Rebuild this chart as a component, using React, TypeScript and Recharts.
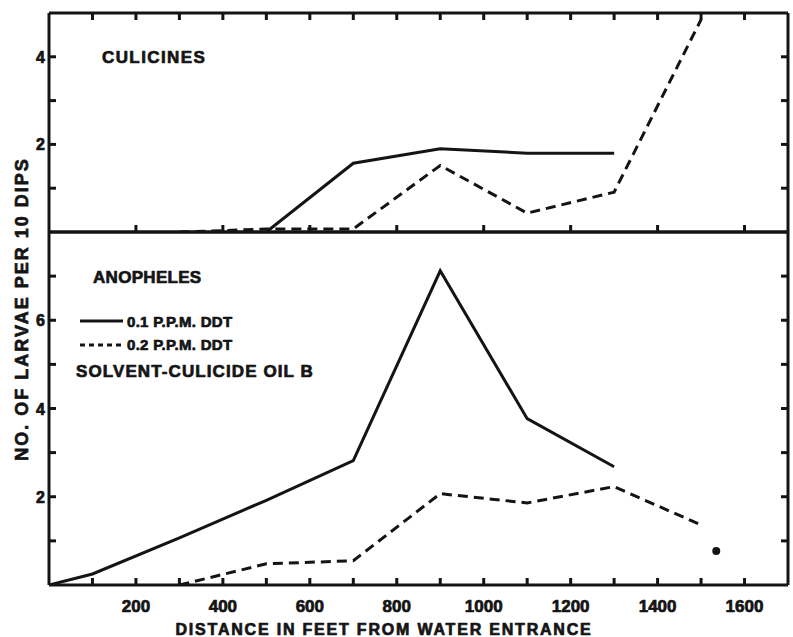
import React from 'react';
import { ComposedChart, Line, Scatter, XAxis, YAxis, Legend } from 'recharts';

// ---- data ----
const xDomain: [number, number] = [0, 1700];
const xTicksAll = [100, 200, 300, 400, 500, 600, 700, 800, 900, 1000, 1100, 1200, 1300, 1400, 1500, 1600];
const xTicksDivider = [200, 400, 600, 800, 1000, 1200, 1400, 1600];
const xTickLabels = [200, 400, 600, 800, 1000, 1200, 1400, 1600];

const topYDomain: [number, number] = [0, 5];
const topYTicks = [1, 2, 3, 4];
const topYLabels = [2, 4];
const bottomYDomain: [number, number] = [0, 8];
const bottomYTicks = [1, 2, 3, 4, 5, 6, 7];
const bottomYLabels = [2, 4, 6];

const seriesNames = ['0.1 P.P.M. DDT', '0.2 P.P.M. DDT'];

const culicines01 = [
  { x: 500, y: 0 }, { x: 700, y: 1.57 }, { x: 900, y: 1.9 }, { x: 1100, y: 1.8 }, { x: 1300, y: 1.8 },
];
const culicines02 = [
  { x: 300, y: 0 }, { x: 400, y: 0.03 }, { x: 500, y: 0.07 }, { x: 700, y: 0.07 },
  { x: 900, y: 1.52 }, { x: 1100, y: 0.43 }, { x: 1300, y: 0.91 }, { x: 1500, y: 4.85 },
];
const anopheles01 = [
  { x: 0, y: 0 }, { x: 100, y: 0.25 }, { x: 300, y: 1.07 }, { x: 500, y: 1.92 },
  { x: 700, y: 2.82 }, { x: 900, y: 7.12 }, { x: 1100, y: 3.77 }, { x: 1300, y: 2.68 },
];
const anopheles02 = [
  { x: 300, y: 0 }, { x: 500, y: 0.48 }, { x: 700, y: 0.55 }, { x: 900, y: 2.07 },
  { x: 1100, y: 1.86 }, { x: 1300, y: 2.23 }, { x: 1500, y: 1.36 },
];
const anophelesSingle = [{ x: 1535, y: 0.77 }];

// ---- styles ----
const K = '#141414';
const FONT = '"Liberation Sans", Arial, sans-serif';
const TICK_LEN = 7;
const TICK_W = 3;
const AXIS_W = 3;
const TEXT_STROKE = 0.7;

const textStyle = {
  fontFamily: FONT,
  fontWeight: 700,
  fill: K,
  stroke: K,
  strokeWidth: TEXT_STROKE,
  strokeLinejoin: 'round' as const,
};

const BottomTick = (labels: number[]) => (props: any) => {
  const { x, y, payload } = props;
  const v = payload.value;
  return (
    <g>
      <line x1={x} x2={x} y1={y} y2={y - TICK_LEN} stroke={K} strokeWidth={TICK_W} />
      {labels.includes(v) && (
        <text x={x} y={y + 27} textAnchor="middle" fontSize={17} {...textStyle}>
          {v}
        </text>
      )}
    </g>
  );
};
const TopTick = (props: any) => {
  const { x, y } = props;
  return (
    <g>
      <line x1={x} x2={x} y1={y} y2={y + TICK_LEN} stroke={K} strokeWidth={TICK_W} />
    </g>
  );
};
const LeftTick = (labels: number[]) => (props: any) => {
  const { x, y, payload } = props;
  const v = payload.value;
  return (
    <g>
      <line x1={x} x2={x + TICK_LEN} y1={y} y2={y} stroke={K} strokeWidth={TICK_W} />
      {labels.includes(v) && (
        <text x={x - 4} y={y + 6} textAnchor="end" fontSize={16} {...textStyle}>
          {v}
        </text>
      )}
    </g>
  );
};
const RightTick = (props: any) => {
  const { x, y } = props;
  return (
    <g>
      <line x1={x} x2={x - TICK_LEN} y1={y} y2={y} stroke={K} strokeWidth={TICK_W} />
    </g>
  );
};

const axisLine = { stroke: K, strokeWidth: AXIS_W };

const LegendContent = () => (
  <svg width={200} height={44} style={{ display: 'block', overflow: 'visible' }}>
    <line x1={4} x2={47} y1={7} y2={7} stroke={K} strokeWidth={3} />
    <text x={51} y={13} fontSize={15} letterSpacing={0.3} {...textStyle}>
      {seriesNames[0]}
    </text>
    <line x1={4} x2={47} y1={31} y2={31} stroke={K} strokeWidth={3} strokeDasharray="5 4" />
    <text x={51} y={36} fontSize={15} letterSpacing={0.3} {...textStyle}>
      {seriesNames[1]}
    </text>
  </svg>
);

export default function App() {
  return (
    <div style={{ position: 'absolute', left: 0, top: 0, width: 793, height: 637, background: '#fff' }}>
      {/* Top panel: Culicines */}
      <div style={{ position: 'absolute', left: 0, top: 0 }}>
        <ComposedChart width={793} height={240} margin={{ top: 0, right: 0, bottom: 0, left: 0 }}>
          <XAxis xAxisId="b" type="number" dataKey="x" domain={xDomain} allowDataOverflow ticks={xTicksDivider}
            interval={0} orientation="bottom" height={8} tickSize={0} tickMargin={0} tickLine={false}
            axisLine={axisLine} tick={BottomTick([])} />
          <XAxis xAxisId="t" type="number" dataKey="x" domain={xDomain} allowDataOverflow ticks={xTicksAll}
            interval={0} orientation="top" height={13} tickSize={0} tickMargin={0} tickLine={false}
            axisLine={axisLine} tick={TopTick} />
          <YAxis yAxisId="l" type="number" domain={topYDomain} allowDataOverflow ticks={topYTicks} interval={0}
            orientation="left" width={49} tickSize={0} tickMargin={0} tickLine={false} axisLine={axisLine}
            tick={LeftTick(topYLabels)} />
          <YAxis yAxisId="r" type="number" domain={topYDomain} allowDataOverflow ticks={topYTicks} interval={0}
            orientation="right" width={5} tickSize={0} tickMargin={0} tickLine={false} axisLine={axisLine}
            tick={RightTick} />
          <Line xAxisId="b" yAxisId="l" data={culicines01} dataKey="y" name={seriesNames[0]} stroke={K}
            strokeWidth={3} dot={false} isAnimationActive={false} />
          <Line xAxisId="b" yAxisId="l" data={culicines02} dataKey="y" name={seriesNames[1]} stroke={K}
            strokeWidth={3} strokeDasharray="10 6" dot={false} isAnimationActive={false} />
        </ComposedChart>
      </div>

      {/* Bottom panel: Anopheles */}
      <div style={{ position: 'absolute', left: 0, top: 220 }}>
        <ComposedChart width={793} height={417} margin={{ top: 0, right: 0, bottom: 0, left: 0 }}>
          <XAxis xAxisId="b" type="number" dataKey="x" domain={xDomain} allowDataOverflow ticks={xTicksAll}
            interval={0} orientation="bottom" height={52} tickSize={0} tickMargin={0} tickLine={false}
            axisLine={axisLine} tick={BottomTick(xTickLabels)} />
          <XAxis xAxisId="t" type="number" dataKey="x" domain={xDomain} allowDataOverflow ticks={[]}
            orientation="top" height={12} tickSize={0} tickLine={false} axisLine={axisLine} tick={false} />
          <YAxis yAxisId="l" type="number" domain={bottomYDomain} allowDataOverflow ticks={bottomYTicks} interval={0}
            orientation="left" width={49} tickSize={0} tickMargin={0} tickLine={false} axisLine={axisLine}
            tick={LeftTick(bottomYLabels)} />
          <YAxis yAxisId="r" type="number" domain={bottomYDomain} allowDataOverflow ticks={bottomYTicks} interval={0}
            orientation="right" width={5} tickSize={0} tickMargin={0} tickLine={false} axisLine={axisLine}
            tick={RightTick} />
          <Legend layout="vertical" align="center" verticalAlign="middle" content={LegendContent}
            wrapperStyle={{ position: 'absolute', left: 76, top: 94, width: 200, height: 44 }} />
          <Line xAxisId="b" yAxisId="l" data={anopheles01} dataKey="y" name={seriesNames[0]} stroke={K}
            strokeWidth={3} dot={false} isAnimationActive={false} />
          <Line xAxisId="b" yAxisId="l" data={anopheles02} dataKey="y" name={seriesNames[1]} stroke={K}
            strokeWidth={3} strokeDasharray="10 6" dot={false} isAnimationActive={false} />
          <Scatter xAxisId="b" yAxisId="l" data={anophelesSingle} dataKey="y" fill={K} legendType="none"
            isAnimationActive={false}
            shape={(p: any) => <circle cx={p.cx} cy={p.cy} r={4} fill={K} />} />
        </ComposedChart>
      </div>

      {/* Annotations */}
      <svg width={793} height={637} style={{ position: 'absolute', left: 0, top: 0, pointerEvents: 'none' }}>
        <text x={102} y={63} fontSize={17} letterSpacing={1.4} {...textStyle}>CULICINES</text>
        <text x={93} y={283} fontSize={17} letterSpacing={0.3} {...textStyle}>ANOPHELES</text>
        <text x={76} y={377} fontSize={17} letterSpacing={1.1} {...textStyle}>SOLVENT-CULICIDE OIL B</text>
        <text x={384} y={635} fontSize={16} letterSpacing={1.8} textAnchor="middle" {...textStyle}>
          DISTANCE IN FEET FROM WATER ENTRANCE
        </text>
        <text x={0} y={0} fontSize={18} letterSpacing={2} textAnchor="middle" {...textStyle}
          transform="translate(28 309) rotate(-90)">
          NO. OF LARVAE PER 10 DIPS
        </text>
      </svg>
    </div>
  );
}
